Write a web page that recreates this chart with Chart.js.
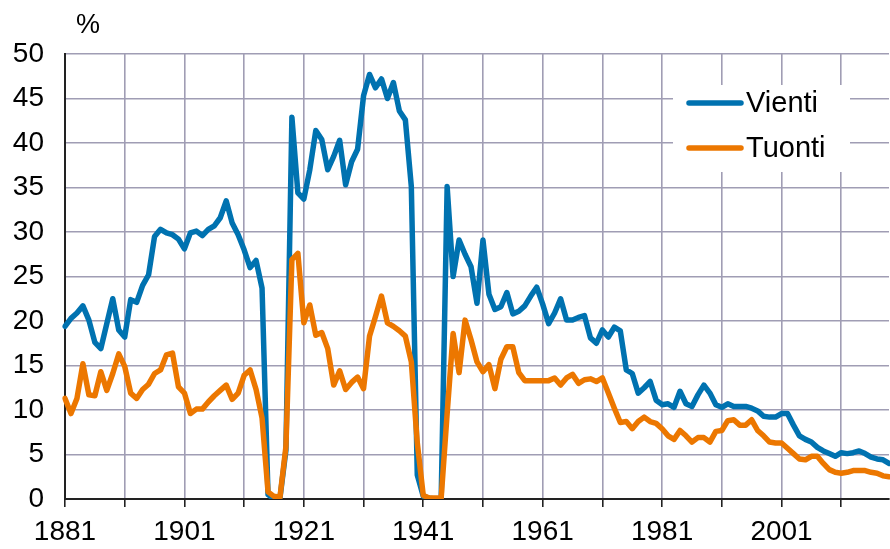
<!DOCTYPE html>
<html lang="fi">
<head>
<meta charset="UTF-8">
<title>Vienti ja tuonti</title>
<script src="https://cdn.jsdelivr.net/npm/chart.js"></script>
<style>
    body { margin: 0; background: #fff; }
    .wrap { width: 890px; height: 549px; position: relative; }
</style>
</head>
<body>
<div class="wrap"><canvas id="chart"></canvas></div>
<script>
// years 1881-2019
const years = Array.from({length: 139}, (_, i) => String(1881 + i));

const vienti = [
    19.4, 20.3, 20.9, 21.7, 20.1, 17.6, 16.9, 19.7, 22.5, 19.0,
    18.2, 22.4, 22.1, 24.0, 25.2, 29.5, 30.3, 29.9, 29.7, 29.2,
    28.1, 29.9, 30.1, 29.6, 30.3, 30.7, 31.6, 33.5, 31.0, 29.7,
    28.0, 26.0, 26.8, 23.7, 0.5, 0.0, 0.1, 5.5, 42.9, 34.4,
    33.7, 37.0, 41.4, 40.4, 37.0, 38.5, 40.3, 35.3, 37.9, 39.3,
    45.3, 47.7, 46.2, 47.2, 45.0, 46.8, 43.6, 42.6, 35.1, 2.7,
    0.3, 0.1, 0.0, 0.0, 35.1, 25.0, 29.1, 27.5, 26.1, 22.0,
    29.1, 23.0, 21.3, 21.6, 23.2, 20.8, 21.1, 21.7, 22.8, 23.8,
    21.9, 19.7, 20.9, 22.5, 20.1, 20.1, 20.4, 20.6, 18.1, 17.5,
    19.0, 18.2, 19.3, 18.9, 14.5, 14.1, 11.9, 12.5, 13.2, 11.1,
    10.6, 10.7, 10.3, 12.1, 10.7, 10.4, 11.7, 12.8, 11.9, 10.6,
    10.3, 10.7, 10.4, 10.4, 10.4, 10.2, 9.9, 9.3, 9.2, 9.2,
    9.6, 9.6, 8.3, 7.1, 6.7, 6.4, 5.8, 5.4, 5.1, 4.8,
    5.2, 5.1, 5.2, 5.4, 5.1, 4.7, 4.5, 4.4, 4.0
];

const tuonti = [
    11.3, 9.6, 11.3, 15.2, 11.7, 11.6, 14.3, 12.2, 14.1, 16.3,
    14.9, 11.9, 11.3, 12.3, 12.9, 14.1, 14.5, 16.2, 16.4, 12.6,
    11.9, 9.6, 10.1, 10.1, 10.9, 11.6, 12.2, 12.8, 11.2, 11.9,
    13.9, 14.5, 12.3, 9.1, 0.8, 0.3, 0.2, 5.9, 26.9, 27.6,
    19.8, 21.8, 18.4, 18.7, 16.9, 12.8, 14.4, 12.3, 13.1, 13.7,
    12.4, 18.3, 20.5, 22.8, 19.8, 19.4, 18.9, 18.3, 15.4, 6.3,
    0.4, 0.1, 0.1, 0.1, 9.6, 18.6, 14.2, 20.1, 17.9, 15.4,
    14.3, 15.1, 12.4, 15.7, 17.1, 17.1, 14.2, 13.3, 13.3, 13.3,
    13.3, 13.3, 13.6, 12.8, 13.6, 14.0, 13.0, 13.4, 13.5, 13.2,
    13.6, 11.9, 10.2, 8.6, 8.7, 7.9, 8.7, 9.2, 8.7, 8.5,
    7.9, 7.1, 6.7, 7.7, 7.1, 6.4, 6.9, 6.9, 6.4, 7.6,
    7.7, 8.8, 8.9, 8.3, 8.3, 8.9, 7.7, 7.1, 6.4, 6.3,
    6.3, 5.7, 5.1, 4.5, 4.4, 4.8, 4.8, 4.0, 3.3, 3.0,
    2.9, 3.0, 3.2, 3.2, 3.2, 3.0, 2.9, 2.6, 2.5
];

const seriesNames = ['Vienti', 'Tuonti'];
const blue = '#0072b0';
const orange = '#ec7700';
const gridColor = '#a09db4';
const axisColor = '#222';
const font = '"Liberation Sans", Arial, sans-serif';

// "%" unit label and legend box inside the plot
const extras = {
    id: 'extras',
    afterDraw(chart) {
        const c = chart.ctx;
        c.save();
        c.fillStyle = '#000';
        c.font = '27px ' + font;
        c.textAlign = 'center';
        c.textBaseline = 'middle';
        c.fillText('%', 88, 26);

        c.fillStyle = '#fff';
        c.fillRect(673, 85, 177, 87);
        const rows = [[seriesNames[0], blue, 103], [seriesNames[1], orange, 148]];
        c.lineWidth = 5.5;
        c.lineCap = 'round';
        c.font = '29px ' + font;
        c.textAlign = 'left';
        rows.forEach(([name, col, y]) => {
            c.strokeStyle = col;
            c.beginPath();
            c.moveTo(689, y);
            c.lineTo(741, y);
            c.stroke();
            c.fillStyle = '#000';
            c.fillText(name, 746, y + 1);
        });
        c.restore();
    }
};

new Chart(document.getElementById('chart'), {
    type: 'line',
    data: {
        labels: years,
        datasets: [
            { label: seriesNames[0], data: vienti, borderColor: blue, order: 1 },
            { label: seriesNames[1], data: tuonti, borderColor: orange, order: 0 }
        ]
    },
    options: {
        responsive: true,
        maintainAspectRatio: false,
        animation: false,
        layout: { padding: { top: 54, right: 1, left: 0, bottom: 0 } },
        elements: {
            line: { borderWidth: 5.5, tension: 0, borderJoinStyle: 'round', borderCapStyle: 'round', fill: false },
            point: { radius: 0 }
        },
        plugins: { legend: { display: false }, tooltip: { enabled: false } },
        scales: {
            x: {
                afterFit(s) { s.height = 50; s.paddingRight = 0; s.paddingLeft = 0; },
                grid: {
                    color: (ctx) => ctx.index % 10 === 0 ? gridColor : 'transparent',
                    tickColor: (ctx) => ctx.index % 10 === 0 ? axisColor : 'transparent',
                    lineWidth: 1.6,
                    tickWidth: 1.6,
                    tickLength: 8
                },
                border: { color: axisColor, width: 2 },
                ticks: {
                    autoSkip: false,
                    maxRotation: 0,
                    minRotation: 0,
                    padding: 8,
                    color: '#000',
                    font: { family: font, size: 28 },
                    callback: (v, i) => i % 20 === 0 ? years[i] : ''
                }
            },
            y: {
                min: 0,
                max: 50,
                afterFit(s) { s.width = 65; },
                grid: { color: gridColor, lineWidth: 1.6, drawTicks: false },
                border: { color: axisColor, width: 2 },
                ticks: {
                    stepSize: 5,
                    padding: 21,
                    color: '#000',
                    font: { family: font, size: 28 }
                }
            }
        }
    },
    plugins: [extras]
});
</script>
</body>
</html>
